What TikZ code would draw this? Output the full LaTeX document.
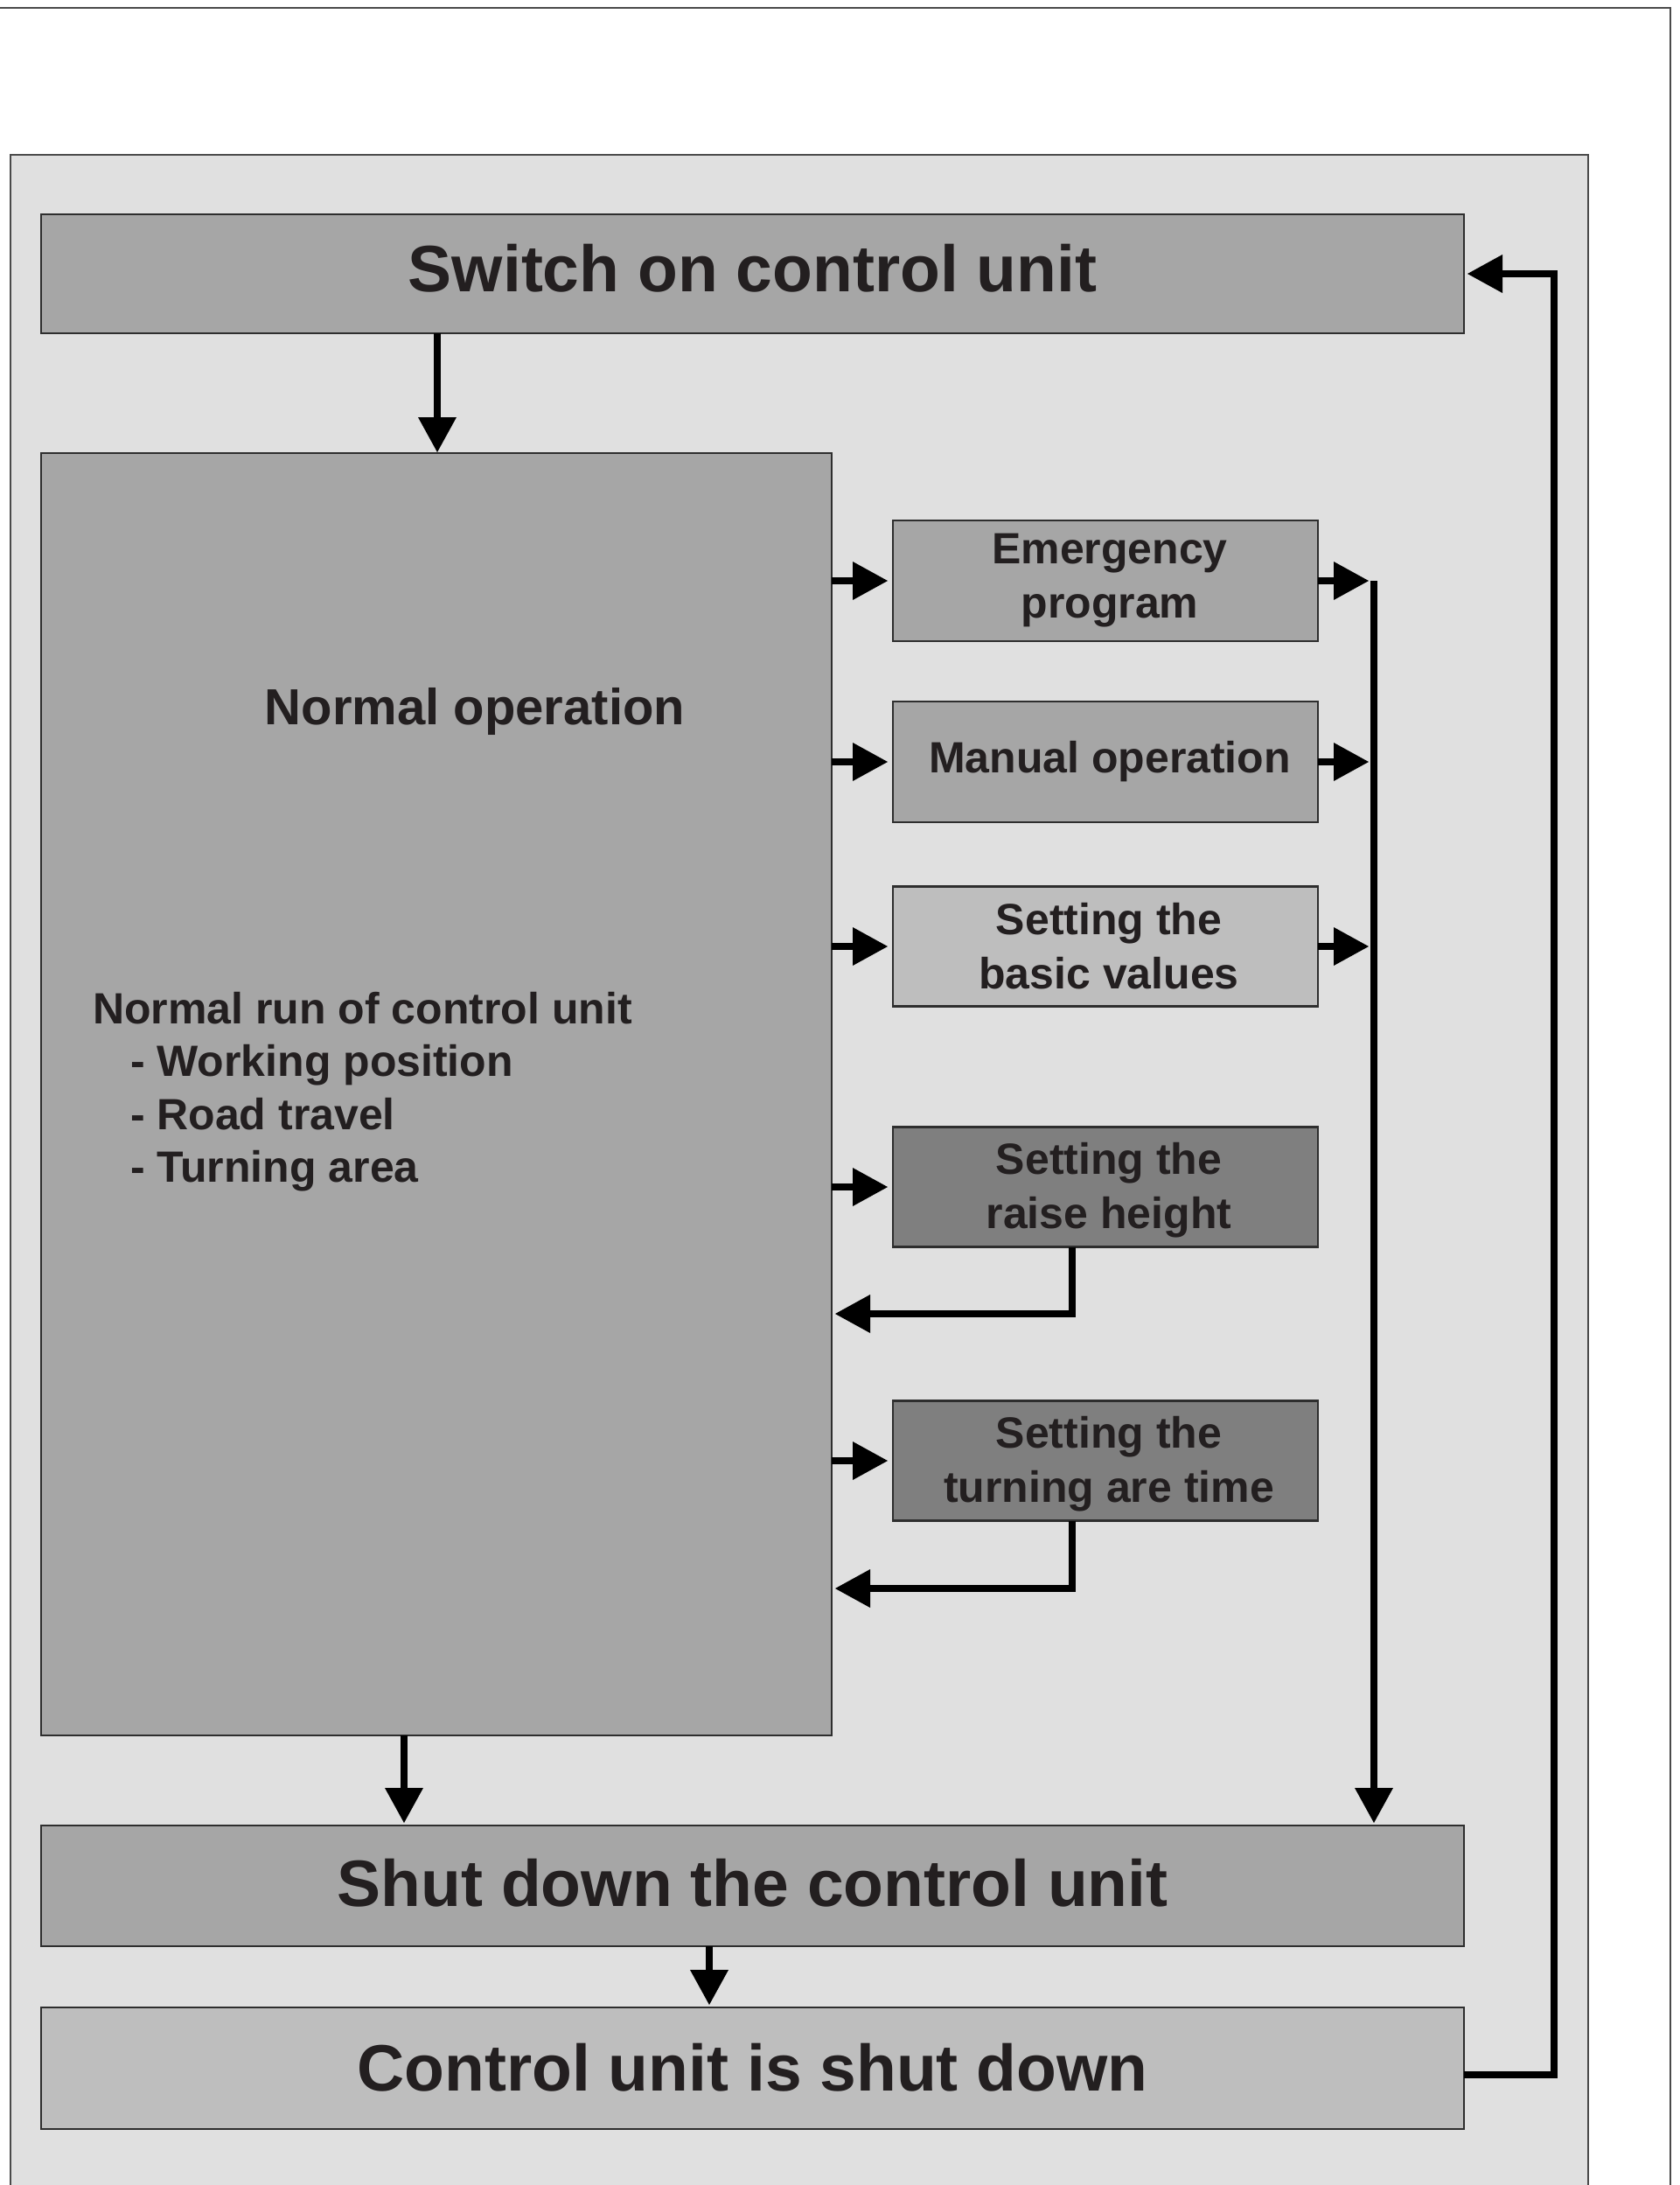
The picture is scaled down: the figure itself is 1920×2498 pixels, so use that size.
\documentclass[tikz,border=0pt]{standalone}
\usepackage{fontspec}
\setmainfont{Liberation Sans}
\usetikzlibrary{arrows.meta,calc}
\definecolor{panel}{HTML}{E0E0E0}
\definecolor{midgray}{HTML}{A6A6A6}
\definecolor{lightgray}{HTML}{BEBEBE}
\definecolor{darkgray}{HTML}{7F7F7F}
\definecolor{boxline}{HTML}{2E2E2E}
\definecolor{txt}{HTML}{231F20}
\definecolor{framecol}{HTML}{4A4A4A}
\begin{document}
\begin{tikzpicture}[x=1pt,y=-1pt,
  box/.style={draw=boxline,line width=2.5pt,rectangle,inner sep=0pt,outer sep=0pt,text=txt,
    font=\bfseries\fontsize{50}{62}\selectfont,align=center},
  bigtext/.style={font=\bfseries\fontsize{75}{90}\selectfont},
  label/.style={text=txt,inner sep=0pt,outer sep=0pt},
  conn/.style={line width=8pt,draw=black,line join=miter,
    -{Triangle[length=40pt,width=44pt,line width=0pt]}},
  plainline/.style={line width=8pt,draw=black,line join=miter}]
\useasboundingbox (0,0) rectangle (1920,2498);
% outer frame and panel
\draw[framecol,line width=2.5pt] (0,9) -- (1910,9) -- (1910,2498);
\fill[panel] (12,177) rectangle (1816,2498);
\draw[framecol,line width=2pt] (12,2498) -- (12,177) -- (1816,177) -- (1816,2498);
% boxes
\node[box,fill=midgray,minimum width=1627pt,minimum height=136pt] (sw) at (860.5,313) {};
\node[box,fill=midgray,minimum width=904pt,minimum height=1466pt] (norm) at (499,1251) {};
\node[box,fill=midgray,minimum width=486pt,minimum height=138pt] (em) at (1264,664) {};
\node[box,fill=midgray,minimum width=486pt,minimum height=138pt] (man) at (1264,871) {};
\node[box,fill=lightgray,minimum width=486pt,minimum height=137pt] (bas) at (1264,1082) {};
\node[box,fill=darkgray,minimum width=486pt,minimum height=137pt] (rai) at (1264,1357) {};
\node[box,fill=darkgray,minimum width=486pt,minimum height=137pt] (tur) at (1264,1670) {};
\node[box,fill=midgray,minimum width=1627pt,minimum height=138pt] (sd) at (860.5,2156) {};
\node[box,fill=lightgray,minimum width=1627pt,minimum height=139pt] (cu) at (860.5,2364.5) {};
% box texts
\node[label,bigtext] (swt) at ([yshift=6pt]sw.center) {Switch on control unit};
\node[label,bigtext] (sdt) at ([yshift=3pt]sd.center) {Shut down the control unit};
\node[label,bigtext] (cut) at ([yshift=1pt]cu.center) {Control unit is shut down};
\node[label,align=center,font=\bfseries\fontsize{50}{62}\selectfont] (emt) at ([xshift=5pt]em.center) {Emergency\\program};
\node[label,align=center,font=\bfseries\fontsize{50}{62}\selectfont] (mant) at ([xshift=5pt]man.center) {Manual operation};
\node[label,align=center,font=\bfseries\fontsize{50}{62}\selectfont] (bast) at ([xshift=4pt]bas.center) {Setting the\\basic values};
\node[label,align=center,font=\bfseries\fontsize{50}{62}\selectfont] (rait) at ([xshift=4pt,yshift=-4pt]rai.center) {Setting the\\raise height};
\node[label,align=center,font=\bfseries\fontsize{50}{62}\selectfont] (turt) at ([xshift=4pt,yshift=-4pt]tur.center) {Setting the\\turning are time};
% texts in normal operation
\node[label,font=\bfseries\fontsize{58}{70}\selectfont] (nt) at (543,813) {Normal operation};
\node[label,anchor=west,align=left,font=\bfseries\fontsize{50}{60.5}\selectfont] (nl) at (106,1248)
  {Normal run of control unit\\\hspace*{43pt}- Working position\\\hspace*{43pt}- Road travel\\\hspace*{43pt}- Turning area};
% helper coordinates
\coordinate (xa) at (500,0);
\coordinate (xb) at (462,0);
\coordinate (xc) at (811,0);
\coordinate (vx) at (1571,0);
\coordinate (xr) at (1226,0);
\coordinate (yr1) at (0,1502);
\coordinate (yr2) at (0,1816);
\coordinate (xf) at (1777,0);
\coordinate (yf) at (0,2372);
% connectors
\draw[conn,shorten >=1pt] (sw.south -| xa) -- (norm.north -| xa);
\foreach \b in {em,man,bas,rai,tur}{
  \draw[conn,shorten >=6pt] (norm.east |- \b.west) -- (\b.west);
}
\foreach \b in {em,man,bas}{
  \draw[conn,shorten >=6pt] (\b.east) -- (\b.east -| vx);
}
\draw[conn,shorten >=3pt] (em.east -| vx) -- (sd.north -| vx);
\draw[conn,shorten >=4pt] (rai.south -| xr) |- (norm.east |- yr1);
\draw[conn,shorten >=4pt] (tur.south -| xr) |- (norm.east |- yr2);
\draw[conn,shorten >=3pt] (norm.south -| xb) -- (sd.north -| xb);
\draw[conn,shorten >=3pt] (sd.south -| xc) -- (cu.north -| xc);
\draw[conn,shorten >=4pt] (cu.east |- yf) -| (xf |- sw.east) -- (sw.east);
\end{tikzpicture}
\end{document}
